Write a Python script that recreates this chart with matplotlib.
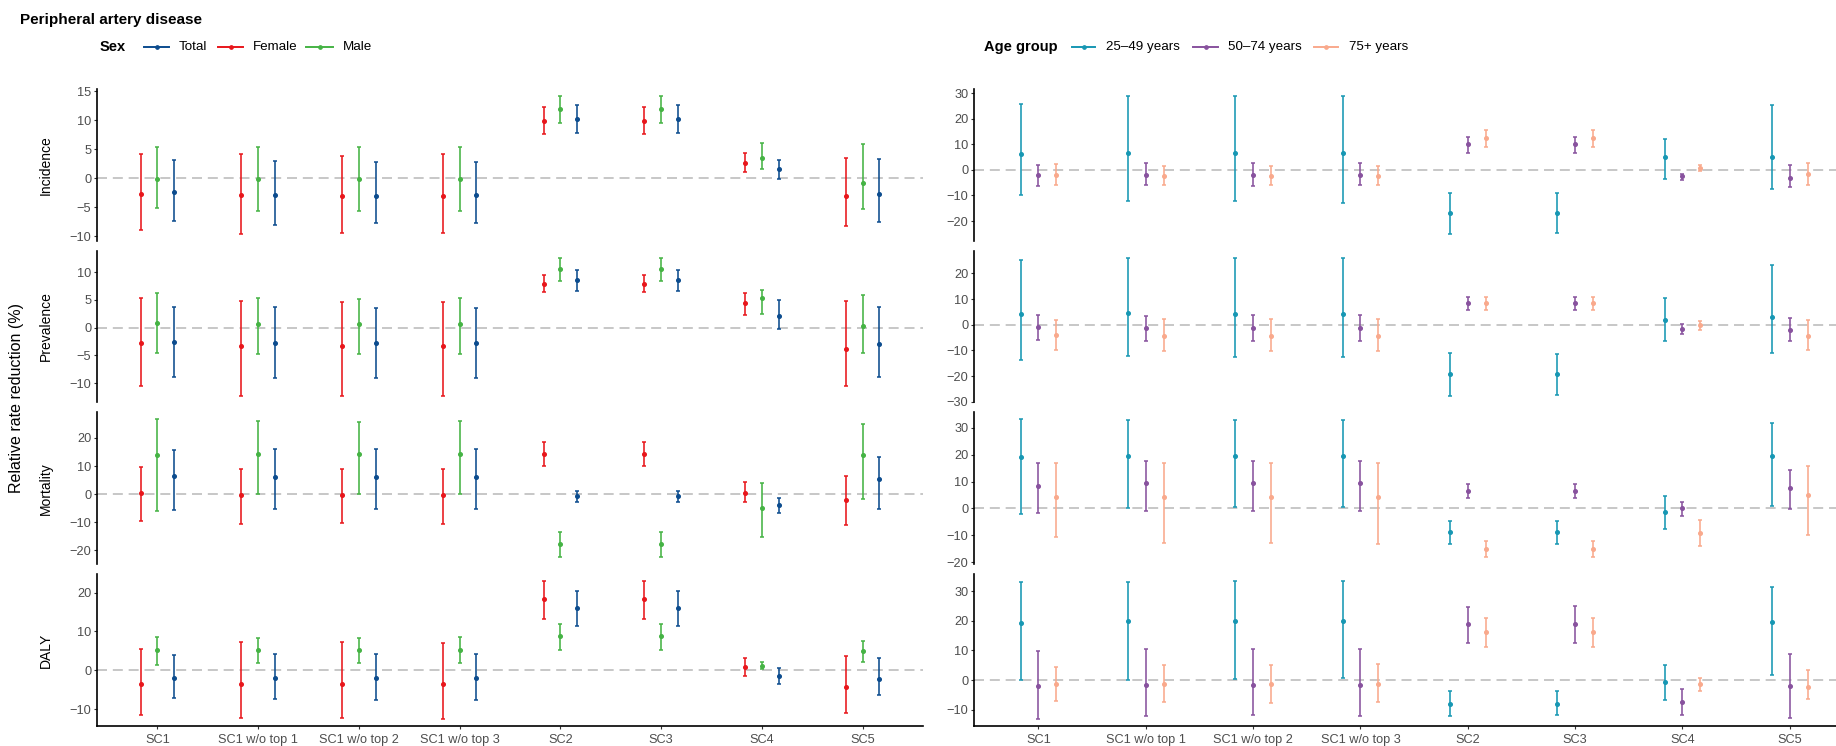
import matplotlib
matplotlib.use("Agg")
import matplotlib.pyplot as plt
from matplotlib.lines import Line2D
from matplotlib.ticker import MultipleLocator
import numpy as np

plt.rcParams['font.family'] = ['Liberation Sans', 'DejaVu Sans']

# ---------------- data ----------------
scenarios = ["SC1", "SC1 w/o top 1", "SC1 w/o top 2", "SC1 w/o top 3", "SC2", "SC3", "SC4", "SC5"]
measures = ["Incidence", "Prevalence", "Mortality", "DALY"]
sex_groups = ["Female", "Male", "Total"]          # dodge order
sex_legend = ["Total", "Female", "Male"]
age_groups = ["25–49 years", "50–74 years", "75+ years"]

# (estimate, lower, upper) per scenario
inc_female = [(-2.74, -8.9, 4.17), (-2.97, -9.6, 4.1), (-3.0, -9.5, 3.9), (-3.1, -9.5, 4.2), (9.9, 7.65, 12.2), (9.9, 7.7, 12.2), (2.6, 1.1, 4.3), (-3.1, -8.2, 3.5)]
inc_male = [(-0.1, -5.1, 5.3), (-0.1, -5.6, 5.4), (-0.1, -5.6, 5.3), (-0.1, -5.6, 5.4), (11.9, 9.5, 14.1), (11.9, 9.5, 14.2), (3.5, 1.6, 6.0), (-0.86, -5.3, 5.9)]
inc_total = [(-2.45, -7.4, 3.1), (-2.85, -8.0, 2.9), (-3.0, -7.8, 2.8), (-2.85, -7.8, 2.8), (10.2, 7.8, 12.7), (10.2, 7.8, 12.7), (1.5, -0.1, 3.1), (-2.7, -7.6, 3.3)]

prev_female = [(-2.8, -10.5, 5.3), (-3.3, -12.2, 4.8), (-3.3, -12.2, 4.6), (-3.3, -12.2, 4.6), (7.9, 6.4, 9.5), (7.9, 6.4, 9.5), (4.4, 2.2, 6.25), (-3.75, -10.5, 4.8)]
prev_male = [(0.9, -4.5, 6.2), (0.6, -4.7, 5.3), (0.6, -4.7, 5.2), (0.6, -4.7, 5.35), (10.6, 8.45, 12.6), (10.6, 8.45, 12.6), (5.35, 2.5, 6.85), (0.3, -4.5, 5.8)]
prev_total = [(-2.5, -8.8, 3.75), (-2.8, -9.05, 3.75), (-2.8, -9.05, 3.6), (-2.8, -9.05, 3.6), (8.5, 6.55, 10.4), (8.5, 6.55, 10.4), (2.15, -0.25, 4.95), (-3.0, -8.8, 3.75)]

mort_female = [(0.6, -9.55, 9.8), (-0.2, -10.6, 9.0), (-0.2, -10.4, 9.0), (-0.2, -10.6, 9.0), (14.15, 9.9, 18.5), (14.15, 9.9, 18.5), (0.5, -2.6, 4.25), (-2.1, -10.8, 6.6)]
mort_male = [(13.9, -6.0, 26.65), (14.4, 0.2, 26.1), (14.4, 0.2, 25.7), (14.4, 0.2, 26.1), (-17.7, -22.4, -13.3), (-17.7, -22.4, -13.3), (-4.95, -15.1, 3.9), (13.9, -1.65, 24.8)]
mort_total = [(6.4, -5.7, 15.6), (6.1, -5.4, 16.2), (6.1, -5.1, 16.2), (6.1, -5.4, 16.2), (-0.8, -2.9, 1.2), (-0.8, -2.9, 1.2), (-3.8, -6.5, -1.5), (5.4, -5.4, 13.2)]

daly_female = [(-3.5, -11.5, 5.45), (-3.5, -12.25, 7.3), (-3.5, -12.25, 7.2), (-3.5, -12.5, 7.15), (18.3, 13.3, 23.0), (18.3, 13.3, 23.0), (0.95, -1.45, 3.2), (-4.2, -11.0, 3.8)]
daly_male = [(5.3, 1.3, 8.5), (5.35, 1.8, 8.4), (5.35, 1.8, 8.4), (5.35, 1.8, 8.5), (8.75, 5.35, 12.0), (8.75, 5.35, 12.0), (1.1, 0.4, 2.05), (5.0, 2.05, 7.6)]
daly_total = [(-1.95, -7.15, 4.0), (-1.9, -7.5, 4.1), (-1.9, -7.6, 4.1), (-1.9, -7.6, 4.1), (16.0, 11.4, 20.5), (16.0, 11.4, 20.5), (-1.35, -3.4, 0.7), (-2.3, -6.3, 3.05)]

inc_age1 = [(6.35, -10.0, 26.0), (6.7, -12.3, 28.8), (6.7, -12.0, 29.0), (6.5, -13.0, 28.8), (-16.8, -25.0, -9.2), (-16.7, -24.6, -9.1), (5.05, -3.5, 12.05), (4.9, -7.4, 25.3)]
inc_age2 = [(-1.8, -6.35, 1.95), (-1.8, -6.0, 2.6), (-1.8, -6.2, 2.6), (-1.8, -6.0, 2.7), (10.0, 6.6, 13.1), (10.0, 6.6, 13.1), (-2.45, -4.0, -1.4), (-3.0, -6.6, 2.1)]
inc_age3 = [(-1.95, -5.8, 2.2), (-2.2, -6.0, 1.4), (-2.2, -6.0, 1.4), (-2.2, -6.0, 1.4), (12.4, 8.8, 15.5), (12.4, 8.8, 15.5), (0.9, -0.5, 1.95), (-1.7, -5.8, 2.6)]

prev_age1 = [(4.25, -13.8, 25.35), (4.4, -12.1, 26.1), (4.1, -12.5, 25.9), (4.25, -12.5, 25.9), (-19.05, -27.5, -10.9), (-19.05, -27.3, -11.3), (1.9, -6.45, 10.4), (3.1, -10.9, 23.4)]
prev_age2 = [(-1.0, -6.05, 3.6), (-1.15, -6.4, 3.5), (-1.15, -6.4, 3.6), (-1.15, -6.4, 3.6), (8.35, 5.65, 10.9), (8.35, 5.65, 10.9), (-1.7, -3.6, 0.1), (-1.95, -6.45, 2.8)]
prev_age3 = [(-4.1, -9.65, 1.7), (-4.5, -10.2, 2.2), (-4.5, -10.2, 2.2), (-4.5, -10.2, 2.2), (8.35, 5.9, 10.7), (8.35, 5.9, 10.7), (-0.25, -2.2, 1.3), (-4.5, -9.65, 1.7)]

mort_age1 = [(19.25, -2.1, 33.1), (19.6, 0.25, 32.7), (19.6, 0.4, 32.7), (19.5, 0.4, 32.7), (-8.9, -13.2, -4.7), (-8.9, -13.2, -4.7), (-1.5, -7.65, 4.55), (19.6, 0.75, 31.85)]
mort_age2 = [(8.5, -1.6, 17.0), (9.4, -1.0, 17.5), (9.4, -1.0, 17.5), (9.4, -1.0, 17.5), (6.4, 3.8, 9.1), (6.4, 3.8, 9.1), (0.35, -2.7, 2.35), (7.65, -0.1, 14.3)]
mort_age3 = [(4.2, -10.5, 16.8), (4.4, -12.8, 17.0), (4.4, -12.8, 16.8), (4.4, -13.1, 16.8), (-15.1, -18.1, -12.1), (-15.1, -18.1, -12.1), (-9.25, -13.95, -4.3), (5.05, -9.75, 15.7)]

daly_age1 = [(19.2, 0.2, 33.1), (20.05, 0.2, 33.1), (19.95, 0.45, 33.3), (20.05, 0.65, 33.4), (-7.9, -12.15, -3.8), (-7.9, -11.9, -3.8), (-0.65, -6.7, 5.0), (19.75, 1.8, 31.45)]
daly_age2 = [(-1.9, -13.05, 9.7), (-1.55, -12.15, 10.6), (-1.55, -11.9, 10.6), (-1.55, -12.15, 10.35), (18.95, 12.35, 24.75), (18.95, 12.35, 24.85), (-7.45, -11.9, -3.1), (-1.9, -12.7, 8.8)]
daly_age3 = [(-1.35, -7.0, 4.55), (-1.35, -7.45, 5.1), (-1.35, -7.7, 5.1), (-1.35, -7.45, 5.35), (16.15, 11.25, 20.95), (16.15, 11.25, 20.95), (-1.35, -3.8, 0.65), (-2.25, -6.25, 3.55)]

sex_data = [[inc_female, inc_male, inc_total],
            [prev_female, prev_male, prev_total],
            [mort_female, mort_male, mort_total],
            [daly_female, daly_male, daly_total]]
age_data = [[inc_age1, inc_age2, inc_age3],
            [prev_age1, prev_age2, prev_age3],
            [mort_age1, mort_age2, mort_age3],
            [daly_age1, daly_age2, daly_age3]]

# ---------------- style ----------------
sex_colors = {"Female": "#E8161B", "Male": "#45B344", "Total": "#0C4C8E"}
age_colors = ["#1797B3", "#88529E", "#F9A98C"]
left_steps = [5, 5, 10, 10]
right_steps = [10, 10, 10, 10]

W, H = 1836, 746
fig = plt.figure(figsize=(W / 100, H / 100), dpi=100)

def rect(x0, x1, top, bottom):
    return [x0 / W, 1 - bottom / H, (x1 - x0) / W, (bottom - top) / H]

TOP, PH, GAP = 89, 151.7, 10
tick_col = "#4D4D4D"
FS_TICK = 9.2

def draw_panel(ax, groups, colors, step, bottom_row, xlim):
    x = np.arange(1, len(scenarios) + 1)
    offs = [-1 / 6, 0, 1 / 6]
    ax.axhline(0, color="#BDBDBD", lw=1.2, ls=(0, (6, 3.5)), zorder=1)
    allv = []
    for g, col, off in zip(groups, colors, offs):
        est = np.array([t[0] for t in g])
        lo = np.array([t[1] for t in g])
        hi = np.array([t[2] for t in g])
        allv += list(lo) + list(hi)
        ax.errorbar(x + off, est, yerr=[est - lo, hi - est], fmt="o", color=col,
                    ms=2.6, elinewidth=1.15, capsize=1.6, capthick=1.1, zorder=3)
    lo_, hi_ = min(allv), max(allv)
    pad = (hi_ - lo_) * 0.05
    ax.set_ylim(lo_ - pad, hi_ + pad)
    ax.set_xlim(*xlim)
    ax.yaxis.set_major_locator(MultipleLocator(step))
    for s in ["top", "right"]:
        ax.spines[s].set_visible(False)
    ax.spines["left"].set_linewidth(1.2)
    ax.spines["bottom"].set_linewidth(1.2)
    ax.tick_params(axis="y", length=2.5, width=0.8, color="#333333", labelsize=FS_TICK,
                   labelcolor=tick_col, pad=1.5)
    ax.set_xticks(x)
    if bottom_row:
        ax.set_xticklabels(scenarios)
        ax.tick_params(axis="x", length=2.5, width=0.8, color="#333333", labelsize=FS_TICK,
                       labelcolor=tick_col, pad=3.5)
    else:
        ax.spines["bottom"].set_visible(False)
        ax.tick_params(axis="x", length=0, labelbottom=False)
    ax.set_facecolor("none")

for i, m in enumerate(measures):
    top = TOP + i * (PH + GAP)
    bot = top + PH
    axl = fig.add_axes(rect(97, 923, top, bot))
    draw_panel(axl, sex_data[i], [sex_colors[g] for g in sex_groups], left_steps[i], i == 3, (0.4, 8.6))
    axr = fig.add_axes(rect(974, 1836, top, bot))
    draw_panel(axr, age_data[i], age_colors, right_steps[i], i == 3, (0.4, 8.43))
    fig.text(46 / W, 1 - (top + PH / 2) / H, m, rotation=90, ha="center", va="center", fontsize=10)

fig.text(17 / W, 1 - 398 / H, "Relative rate reduction (%)", rotation=90, ha="center", va="center", fontsize=11.5)

# title
fig.text(20 / W, 1 - 20 / H, "Peripheral artery disease", ha="left", va="center", fontsize=11, fontweight="bold")

# legends (drawn manually, inline title like ggplot)
def legend_row(title, tx, keys, labels, colors, y=47):
    fig.text(tx / W, 1 - y / H, title, ha="left", va="center", fontsize=10.5, fontweight="bold")
    for (k0, k1, lx), lab, col in zip(keys, labels, colors):
        yy = 1 - y / H
        fig.add_artist(Line2D([k0 / W, k1 / W], [yy, yy], color=col, lw=1.4))
        fig.add_artist(Line2D([(k0 + k1) / 2 / W], [yy], color=col, marker="o", ms=2.4, lw=0))
        fig.text(lx / W, yy, lab, ha="left", va="center", fontsize=9.6)

legend_row("Sex", 100, [(144, 169, 179), (218, 243, 253), (306, 333, 343)],
           sex_legend, [sex_colors[g] for g in sex_legend])
legend_row("Age group", 984, [(1072, 1095, 1106), (1193, 1218, 1228), (1314, 1338, 1349)],
           age_groups, age_colors)

fig.savefig("out.png", dpi=100)
